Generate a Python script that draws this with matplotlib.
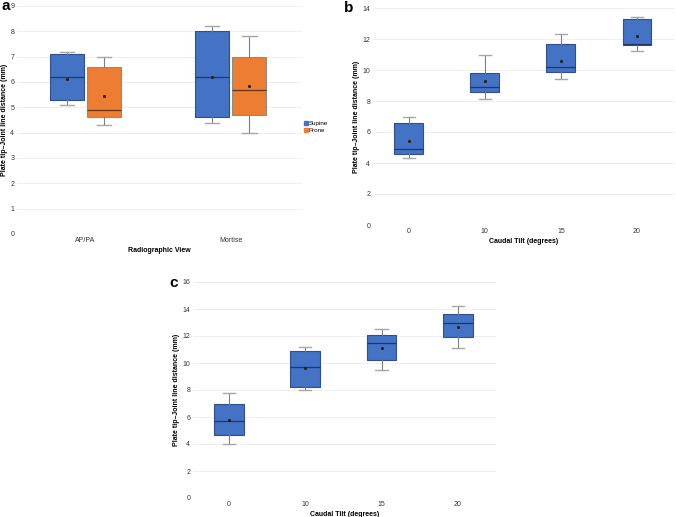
import matplotlib
matplotlib.use('Agg')
import matplotlib.pyplot as plt
from matplotlib import rcParams
from matplotlib.lines import Line2D

rcParams['font.family'] = 'sans-serif'
rcParams['font.sans-serif'] = ['Liberation Sans', 'DejaVu Sans']
rcParams['font.size'] = 5

# panel a: radiographic view, supine vs prone
views = ['AP/PA', 'Mortise']
supine_lo = [5.1, 4.4]
supine_q1 = [5.3, 4.6]
supine_med = [6.2, 6.2]
supine_q3 = [7.1, 8.0]
supine_hi = [7.2, 8.2]
supine_mean = [6.1, 6.2]
prone_lo = [4.3, 4.0]
prone_q1 = [4.6, 4.7]
prone_med = [4.9, 5.7]
prone_q3 = [6.6, 7.0]
prone_hi = [7.0, 7.8]
prone_mean = [5.45, 5.85]

# panels b and c: caudal tilt
tilts = ['0', '10', '15', '20']
b_lo = [4.3, 8.1, 9.4, 11.2]
b_q1 = [4.6, 8.6, 9.9, 11.6]
b_med = [4.9, 8.9, 10.2, 11.7]
b_q3 = [6.6, 9.8, 11.7, 13.3]
b_hi = [7.0, 11.0, 12.3, 13.4]
b_mean = [5.45, 9.3, 10.6, 12.2]

c_lo = [4.0, 8.0, 9.5, 11.1]
c_q1 = [4.7, 8.2, 10.2, 11.9]
c_med = [5.7, 9.7, 11.5, 13.0]
c_q3 = [7.0, 10.9, 12.1, 13.6]
c_hi = [7.8, 11.2, 12.5, 14.2]
c_mean = [5.8, 9.6, 11.1, 12.7]

BLUE = '#4472C4'
ORANGE = '#ED7D31'


def stats(lo, q1, med, q3, hi, mean):
    return [dict(whislo=a, q1=b, med=c, q3=d, whishi=e, mean=f, fliers=[])
            for a, b, c, d, e, f in zip(lo, q1, med, q3, hi, mean)]


def draw(ax, st, pos, width, face, edge, medc):
    ax.bxp(st, positions=pos, widths=width, patch_artist=True, showmeans=True,
           showfliers=False,
           boxprops=dict(facecolor=face, edgecolor=edge, linewidth=0.8),
           medianprops=dict(color=medc, linewidth=0.9),
           whiskerprops=dict(color='#7f7f7f', linewidth=0.8),
           capprops=dict(color='#a6a6a6', linewidth=1.0),
           capwidths=width * 0.42,
           meanprops=dict(marker='s', markersize=1.1, markerfacecolor='#222222',
                          markeredgecolor='#222222'))


def style(ax, ymax, ystep):
    ax.set_ylim(0, ymax)
    ax.set_yticks(range(0, ymax + 1, ystep))
    ax.grid(axis='y', color='#ececec', linewidth=0.6)
    ax.set_axisbelow(True)
    for s in ax.spines.values():
        s.set_visible(False)
    ax.tick_params(axis='y', length=0, labelsize=5, colors='#333333', pad=2)
    ax.tick_params(axis='x', length=0, labelsize=5, colors='#333333', pad=2.5)
    ax.set_ylabel('Plate tip–Joint line distance (mm)', fontsize=5,
                  fontweight='bold', labelpad=1.5)


fig = plt.figure(figsize=(6.76, 5.17), dpi=100)
W, H = 676, 517


def axes_px(x0, y0, x1, y1):
    return fig.add_axes([x0 / W, 1 - y1 / H, (x1 - x0) / W, (y1 - y0) / H])


# panel a
ax = axes_px(17, 6, 302, 234)
xa = list(range(len(views)))
draw(ax, stats(supine_lo, supine_q1, supine_med, supine_q3, supine_hi, supine_mean),
     [x - 0.128 for x in xa], 0.235, BLUE, '#2f4f8f', '#1f3864')
draw(ax, stats(prone_lo, prone_q1, prone_med, prone_q3, prone_hi, prone_mean),
     [x + 0.128 for x in xa], 0.235, ORANGE, '#8c8c8c', '#6b3410')
style(ax, 9, 1)
ax.set_xlim(-0.47, 1.49)
ax.set_xticks(xa, views)
ax.set_xlabel('Radiographic View', fontsize=5, fontweight='bold', labelpad=2)
handles = [Line2D([], [], marker='s', linestyle='', markersize=2.2, color=BLUE),
           Line2D([], [], marker='s', linestyle='', markersize=2.2, color=ORANGE)]
fig.legend(handles, ['Supine', 'Prone'], loc='center left',
           bbox_to_anchor=(302 / W, 1 - 127 / H), frameon=False, fontsize=4.5,
           handlelength=0.4, handletextpad=0.2, labelspacing=0.3, borderpad=0)
fig.text(1 / W, 1 - 6 / H, 'a', fontsize=11, fontweight='bold', va='center')

# panel b
ax = axes_px(373, 8, 675, 225)
xb = list(range(len(tilts)))
draw(ax, stats(b_lo, b_q1, b_med, b_q3, b_hi, b_mean), xb, 0.38,
     BLUE, '#2f4f8f', '#1f3864')
style(ax, 14, 2)
ax.set_xlim(-0.47, 3.5)
ax.set_xticks(xb, tilts)
ax.set_xlabel('Caudal Tilt (degrees)', fontsize=5, fontweight='bold', labelpad=2)
fig.text(344 / W, 1 - 8 / H, 'b', fontsize=11, fontweight='bold', va='center')

# panel c
ax = axes_px(193, 282, 496, 498)
draw(ax, stats(c_lo, c_q1, c_med, c_q3, c_hi, c_mean), xb, 0.39,
     BLUE, '#2f4f8f', '#1f3864')
style(ax, 16, 2)
ax.set_xlim(-0.47, 3.5)
ax.set_xticks(xb, tilts)
ax.set_xlabel('Caudal Tilt (degrees)', fontsize=5, fontweight='bold', labelpad=2)
fig.text(169 / W, 1 - 283 / H, 'c', fontsize=11, fontweight='bold', va='center')

fig.savefig('out.png', dpi=100, facecolor='w')
